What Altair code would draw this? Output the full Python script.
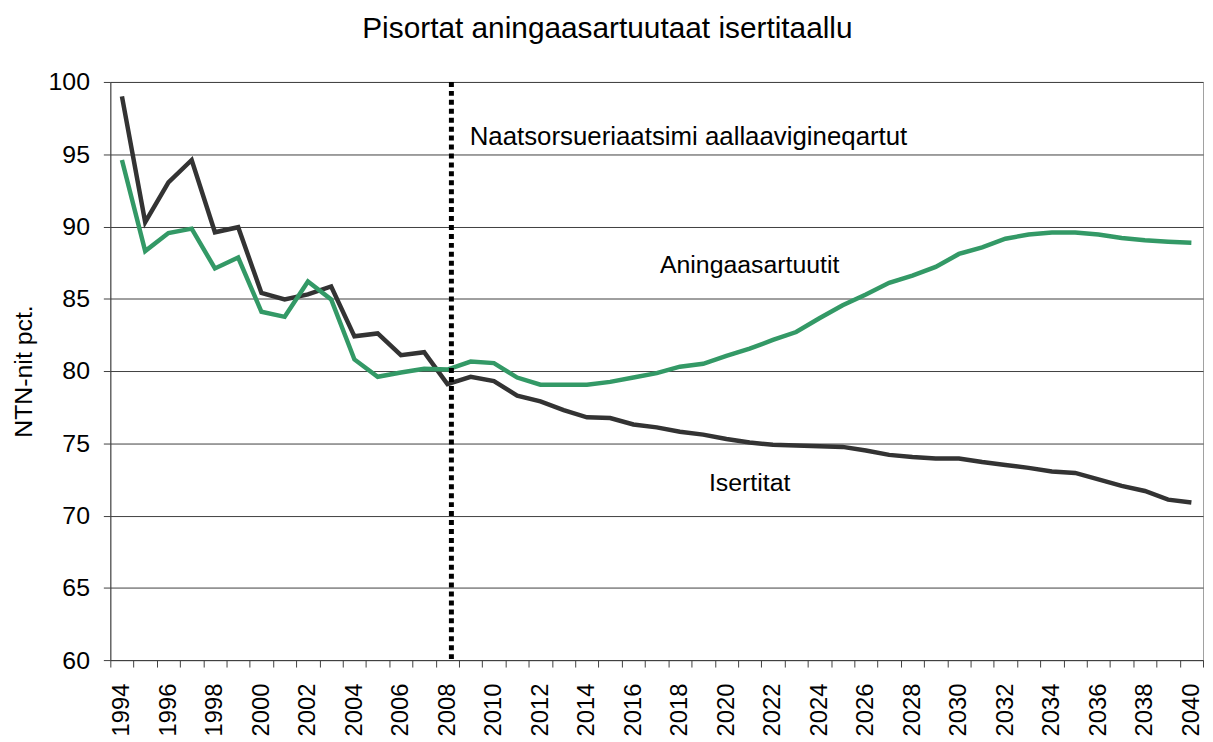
import altair as alt
import pandas as pd

FONT = "Liberation Sans, Arial, sans-serif"

years = list(range(1994, 2041))
isertitat = [99.0, 90.3, 93.05, 94.6, 89.6, 89.95, 85.4, 84.95, 85.3, 85.85,
             82.4, 82.6, 81.1, 81.3, 79.1, 79.6, 79.3, 78.3, 77.9, 77.3,
             76.8, 76.75, 76.3, 76.1, 75.8, 75.6, 75.3, 75.05, 74.9, 74.85,
             74.8, 74.75, 74.5, 74.2, 74.05, 73.95, 73.95, 73.7, 73.5, 73.3,
             73.05, 72.95, 72.5, 72.05, 71.7, 71.1, 70.9]
aningaasartuutit = [94.6, 88.3, 89.55, 89.85, 87.1, 87.85, 84.1, 83.75, 86.2, 84.95,
                    80.8, 79.6, 79.9, 80.15, 80.1, 80.65, 80.55, 79.55, 79.05, 79.05,
                    79.05, 79.25, 79.55, 79.85, 80.3, 80.5, 81.05, 81.55, 82.15, 82.7,
                    83.65, 84.55, 85.3, 86.1, 86.6, 87.2, 88.1, 88.55, 89.15, 89.45,
                    89.58, 89.58, 89.45, 89.2, 89.05, 88.95, 88.88]
series_names = ["Isertitat", "Aningaasartuutit"]
series_colors = ["#333333", "#339966"]
forecast_start = [2008]
y_ticks = [60, 65, 70, 75, 80, 85, 90, 95, 100]

ann_text = ["Naatsorsueriaatsimi aallaavigineqartut", "Aningaasartuutit", "Isertitat"]
ann_year = [2009, 2021, 2021]
ann_value = [95.65, 86.75, 71.7]

title_text = "Pisortat aningaasartuutaat isertitaallu"
y_title = "NTN-nit pct."

rows = []
for name, vals in zip(series_names, [isertitat, aningaasartuutit]):
    for yr, v in zip(years, vals):
        rows.append({"year": yr, "value": v, "series": name})
df = pd.DataFrame(rows)
rule_df = pd.DataFrame({"year": forecast_start})
ann_df = pd.DataFrame({"year": ann_year, "value": ann_value, "label": ann_text})

x_axis = alt.Axis(
    title=None, labelAngle=270, labelFont=FONT, labelFontSize=24, labelColor="black",
    labelExpr="datum.value % 2 == 0 ? datum.label : ''", labelOverlap=False,
    labelPadding=16, tickBand="extent", tickSize=7, tickColor="#404040",
    domainColor="#404040", grid=False,
)
x_enc = alt.X("year:O", scale=alt.Scale(type="band", paddingInner=0, paddingOuter=0),
              axis=x_axis, bandPosition=0.5)
y_enc = alt.Y("value:Q", scale=alt.Scale(domain=[60, 100], nice=False, zero=False),
              axis=alt.Axis(values=y_ticks, title=y_title, titleFont=FONT, titleFontSize=25,
                            titleFontWeight="normal", titleColor="black", titlePadding=12,
                            labelFont=FONT, labelFontSize=25, labelColor="black",
                            labelPadding=14, tickSize=7, tickColor="#404040",
                            domainColor="#404040", gridColor="#404040", gridWidth=1))

lines = alt.Chart(df).mark_line(strokeWidth=4.5).encode(
    x=x_enc, y=y_enc,
    color=alt.Color("series:N", scale=alt.Scale(domain=series_names, range=series_colors), legend=None),
    order=alt.value(0),
)

rule = alt.Chart(rule_df).mark_rule(color="black", strokeWidth=5, strokeDash=[5, 4], xOffset=4).encode(
    x=alt.X("year:O", bandPosition=0.5)
)

ann_left = alt.Chart(ann_df.iloc[[0]]).mark_text(
    align="left", baseline="alphabetic", font=FONT, fontSize=26, color="black", dx=-1
).encode(x=alt.X("year:O", bandPosition=0.5), y="value:Q", text="label:N")

ann_center = alt.Chart(ann_df.iloc[[1, 2]]).mark_text(
    align="center", baseline="alphabetic", font=FONT, fontSize=25, color="black"
).encode(x=alt.X("year:O", bandPosition=0.5), y="value:Q", text="label:N")

chart = alt.layer(lines, rule, ann_left, ann_center).properties(
    width=1100, height=582,
    title=alt.Title(title_text, font=FONT, fontSize=30, fontWeight="normal", color="black",
                    anchor="middle", frame="bounds", offset=26),
    autosize=alt.AutoSizeParams(type="none"),
    padding={"left": 103, "top": 72, "right": 2, "bottom": 80},
).configure_view(stroke="#a0a0a0", strokeWidth=1)

chart.save("out.html", embed_options={"renderer": "svg", "actions": False})
